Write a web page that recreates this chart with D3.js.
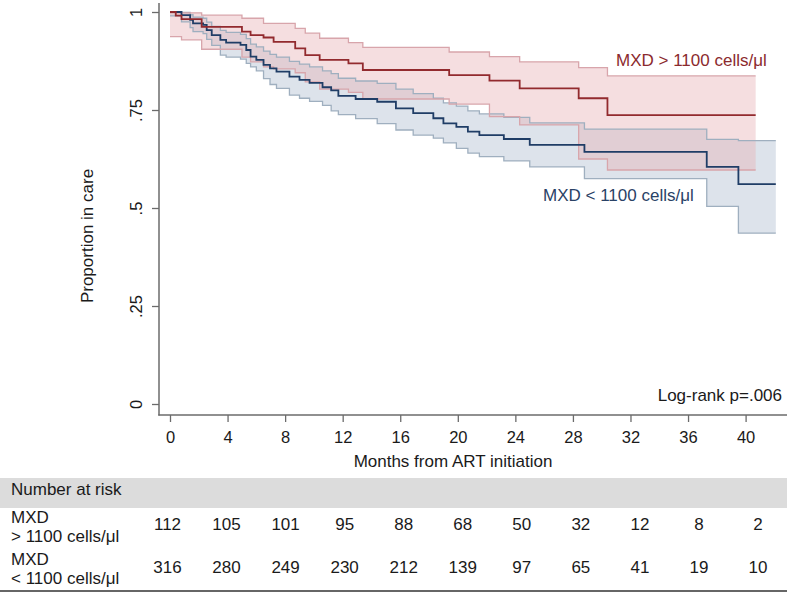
<!DOCTYPE html>
<html>
<head>
<meta charset="utf-8">
<script src="https://cdn.jsdelivr.net/npm/d3@7"></script>
<style>
  html, body { margin: 0; padding: 0; background: #fff; }
  svg { display: block; font-family: "Liberation Sans", Arial, Helvetica, sans-serif; }
</style>
</head>
<body>
<svg id="chart" width="787" height="593"></svg>
<script>
// ---------------- DATA ----------------
const xTicks = [0, 4, 8, 12, 16, 20, 24, 28, 32, 36, 40];
const yTicks = [0, 0.25, 0.5, 0.75, 1];
const yTickLabels = ["0", ".25", ".5", ".75", "1"];

// MXD > 1100 cells/µl  (Kaplan-Meier estimate and 95% CI)
const redT  = [0, 0.4, 0.8, 2.2, 5.0, 5.6, 6.5, 7.2, 8.7, 9.4, 10.4, 12.4, 13.4, 19.4, 22.2, 24.3, 28.4, 30.4, 40.7];
const redS  = [1, 0.991, 0.982, 0.962, 0.950, 0.941, 0.935, 0.924, 0.907, 0.890, 0.878, 0.869, 0.852, 0.839, 0.825, 0.805, 0.780, 0.737, 0.737];
const redHi = [0.998, 0.998, 0.998, 0.992, 0.984, 0.984, 0.971, 0.971, 0.958, 0.946, 0.933, 0.922, 0.910, 0.898, 0.886, 0.873, 0.858, 0.837, 0.837];
const redLo = [0.937, 0.937, 0.929, 0.905, 0.885, 0.873, 0.860, 0.855, 0.845, 0.822, 0.803, 0.795, 0.778, 0.765, 0.733, 0.712, 0.625, 0.597, 0.597];

// MXD < 1100 cells/µl
const blueT  = [0, 0.8, 1.4, 1.6, 2.3, 2.55, 2.9, 3.5, 3.9, 4.9, 5.3, 5.6, 6.0, 6.5, 6.95, 7.4, 8.3, 9.0, 9.7, 10.6, 11.2, 11.7, 12.9, 14.4, 15.7, 16.9, 18.3, 19.0, 19.9, 20.7, 21.5, 23.2, 25.0, 28.8, 37.3, 39.5, 42.1];
const blueS  = [1, 0.992, 0.980, 0.971, 0.967, 0.954, 0.941, 0.929, 0.922, 0.916, 0.903, 0.886, 0.878, 0.865, 0.856, 0.848, 0.835, 0.827, 0.819, 0.808, 0.800, 0.786, 0.778, 0.771, 0.754, 0.742, 0.729, 0.716, 0.707, 0.695, 0.686, 0.676, 0.661, 0.643, 0.605, 0.561, 0.561];
const blueHi = [1.0, 0.999, 0.993, 0.987, 0.984, 0.974, 0.963, 0.953, 0.948, 0.943, 0.932, 0.918, 0.911, 0.900, 0.892, 0.885, 0.874, 0.867, 0.860, 0.850, 0.843, 0.831, 0.824, 0.818, 0.803, 0.792, 0.780, 0.768, 0.760, 0.748, 0.740, 0.731, 0.717, 0.701, 0.675, 0.672, 0.672];
const blueLo = [0.990, 0.975, 0.960, 0.950, 0.945, 0.930, 0.915, 0.890, 0.885, 0.880, 0.869, 0.860, 0.850, 0.830, 0.815, 0.805, 0.788, 0.780, 0.772, 0.762, 0.748, 0.738, 0.728, 0.715, 0.699, 0.686, 0.678, 0.666, 0.652, 0.640, 0.631, 0.620, 0.605, 0.575, 0.504, 0.436, 0.436];

// Number at risk table
const riskTimes = [0, 4, 8, 12, 16, 20, 24, 28, 32, 36, 40];
const riskHigh = [112, 105, 101, 95, 88, 68, 50, 32, 12, 8, 2];
const riskLow  = [316, 280, 249, 230, 212, 139, 97, 65, 41, 19, 10];

const groupNames = ["MXD > 1100 cells/\u03bcl", "MXD < 1100 cells/\u03bcl"];

// ---------------- DRAW ----------------
const svg = d3.select("#chart");
const x = d3.scaleLinear().domain([0, 40]).range([170, 745.6]);
const y = d3.scaleLinear().domain([0, 1]).range([404, 12]);

const txt = "#1a1a1a", axisCol = "#6b6b6b";
const FS = "17px";

function rows(T, S, Lo, Hi) { return T.map((t, i) => ({ t, s: S[i], lo: Lo[i], hi: Hi[i] })); }
const red = rows(redT, redS, redLo, redHi);
const blue = rows(blueT, blueS, blueLo, blueHi);

const area = d3.area().curve(d3.curveStepAfter).x(d => x(d.t)).y0(d => y(d.lo)).y1(d => y(d.hi));
const lineS = d3.line().curve(d3.curveStepAfter).x(d => x(d.t)).y(d => y(d.s));
const lineLo = d3.line().curve(d3.curveStepAfter).x(d => x(d.t)).y(d => y(d.lo));
const lineHi = d3.line().curve(d3.curveStepAfter).x(d => x(d.t)).y(d => y(d.hi));

// CI bands
svg.append("path").datum(blue).attr("d", area).attr("fill", "#a9b9cc").attr("fill-opacity", 0.4);
svg.append("path").datum(red).attr("d", area).attr("fill", "#e8b0b6").attr("fill-opacity", 0.42);
// CI lines
[[blue, "#9fafbf"], [red, "#d8a5ab"]].forEach(([d, c]) => {
  svg.append("path").datum(d).attr("d", lineLo).attr("fill", "none").attr("stroke", c).attr("stroke-width", 1.3);
  svg.append("path").datum(d).attr("d", lineHi).attr("fill", "none").attr("stroke", c).attr("stroke-width", 1.3);
});
// survival lines
svg.append("path").datum(blue).attr("d", lineS).attr("fill", "none").attr("stroke", "#1f3d66").attr("stroke-width", 1.8);
svg.append("path").datum(red).attr("d", lineS).attr("fill", "none").attr("stroke", "#922a2e").attr("stroke-width", 1.8);

// Y axis
const gy = svg.append("g").attr("transform", "translate(159,0)")
  .call(d3.axisLeft(y).tickValues(yTicks).tickSize(7).tickFormat((d, i) => yTickLabels[i]));
gy.select(".domain").remove();
gy.selectAll(".tick line").attr("stroke", axisCol).attr("stroke-width", 1.3);
gy.selectAll(".tick text").attr("x", null).attr("dy", null).attr("y", null)
  .attr("transform", "translate(-17,0) rotate(-90)").attr("text-anchor", "middle")
  .attr("fill", txt).style("font-size", "16.5px").style("font-family", "Liberation Sans, Arial, sans-serif");
svg.append("line").attr("x1", 159).attr("x2", 159).attr("y1", 3).attr("y2", 415.5)
  .attr("stroke", axisCol).attr("stroke-width", 1.5);

// X axis
const gx = svg.append("g").attr("transform", "translate(0,415)")
  .call(d3.axisBottom(x).tickValues(xTicks).tickSize(7));
gx.select(".domain").remove();
gx.selectAll(".tick line").attr("stroke", axisCol).attr("stroke-width", 1.3);
gx.selectAll(".tick text").attr("y", 28).attr("dy", null).attr("fill", txt)
  .style("font-size", "16.5px").style("font-family", "Liberation Sans, Arial, sans-serif");
svg.append("line").attr("x1", 158.3).attr("x2", 787).attr("y1", 415).attr("y2", 415)
  .attr("stroke", axisCol).attr("stroke-width", 1.5);

// Axis titles
svg.append("text").attr("x", 453).attr("y", 467).attr("text-anchor", "middle")
  .attr("fill", txt).style("font-size", FS).text("Months from ART initiation");
svg.append("text").attr("transform", "translate(93,236) rotate(-90)").attr("text-anchor", "middle")
  .attr("fill", txt).style("font-size", FS).text("Proportion in care");

// Curve labels
svg.append("text").attr("x", 616).attr("y", 66).attr("fill", "#8b2a2e")
  .style("font-size", FS).text(groupNames[0]);
svg.append("text").attr("x", 543).attr("y", 201).attr("fill", "#2a4266")
  .style("font-size", FS).text(groupNames[1]);
svg.append("text").attr("x", 782).attr("y", 401).attr("text-anchor", "end")
  .attr("fill", txt).style("font-size", FS).text("Log-rank p=.006");

// Number at risk table
svg.append("rect").attr("x", 0).attr("y", 478).attr("width", 787).attr("height", 30).attr("fill", "#dcdcdc");
svg.append("text").attr("x", 11).attr("y", 495).attr("fill", txt).style("font-size", FS).text("Number at risk");

const col = d3.scaleLinear().domain([0, riskTimes.length - 1]).range([167.5, 758]);
const tableRows = [
  { label: ["MXD", "> 1100 cells/\u03bcl"], vals: riskHigh, y0: 523, y1: 542, yv: 530 },
  { label: ["MXD", "< 1100 cells/\u03bcl"], vals: riskLow,  y0: 565, y1: 584, yv: 573 }
];
tableRows.forEach(r => {
  svg.append("text").attr("x", 11).attr("y", r.y0).attr("fill", txt).style("font-size", FS).text(r.label[0]);
  svg.append("text").attr("x", 11).attr("y", r.y1).attr("fill", txt).style("font-size", FS).text(r.label[1]);
  svg.selectAll(null).data(r.vals).enter().append("text")
    .attr("x", (d, i) => col(i)).attr("y", r.yv).attr("text-anchor", "middle")
    .attr("fill", txt).style("font-size", FS).text(d => d);
});
svg.append("line").attr("x1", 0).attr("x2", 787).attr("y1", 591).attr("y2", 591)
  .attr("stroke", "#333").attr("stroke-width", 1.5);
</script>
</body>
</html>
